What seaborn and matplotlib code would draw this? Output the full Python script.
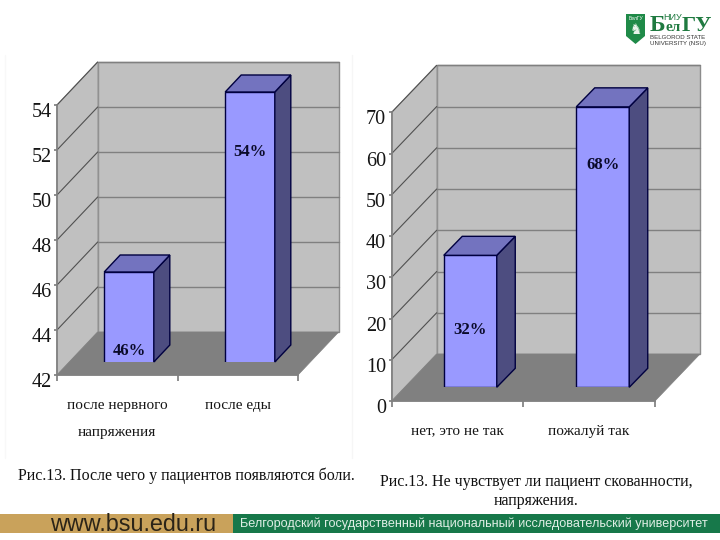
import matplotlib
matplotlib.use("Agg")
import matplotlib.pyplot as plt
from matplotlib.patches import Polygon, Rectangle
from matplotlib.transforms import ScaledTranslation
import seaborn as sns

# данные левого графика
left_cats = ["после нервного\nнапряжения", "после еды"]
left_vals = [46, 54]
left_ticks = [42, 44, 46, 48, 50, 52, 54]

# данные правого графика
right_cats = ["нет, это не так", "пожалуй так"]
right_vals = [32, 68]
right_ticks = [0, 10, 20, 30, 40, 50, 60, 70]

caption_left = "Рис.13. После чего у пациентов появляются боли."
caption_right = "Рис.13. Не чувствует ли пациент скованности,\nнапряжения."
site_text = "www.bsu.edu.ru"
banner_text = "Белгородский государственный национальный исследовательский университет"

W, H = 720, 540
WALL = "#C0C0C0"
FLOOR = "#808080"
FRONT = "#9999FF"
SIDE = "#4D4D80"
TOP = "#7373BF"
EDGE = "#000040"
LOGO = "#1F7A40"
SERIF = ["Liberation Serif", "DejaVu Serif"]
SANS = ["Liberation Sans", "DejaVu Sans"]

sns.set_theme(style="white")
plt.rcParams["font.family"] = SERIF


def px_axes(fig, l, t, r, b, z):
    ax = fig.add_axes([l / W, 1 - b / H, (r - l) / W, (b - t) / H], zorder=z)
    ax.patch.set_alpha(0)
    return ax


def draw_frame(fig, box, depth, cats, ticks):
    # стены, пол и ось значений
    l, t, r, b = box
    ax = px_axes(fig, l, t, r, b, 1)
    lo, hi = ticks[0], ticks[-1]
    ax.set_xlim(0, 2)
    ax.set_ylim(lo, hi)
    dx = depth[0] * 2 / (r - l)
    dy = depth[1] * (hi - lo) / (b - t)
    ax.add_patch(Polygon([(dx, lo + dy), (2 + dx, lo + dy), (2 + dx, hi + dy), (dx, hi + dy)],
                         fc=WALL, ec="#8c8c8c", lw=1, clip_on=False))
    ax.add_patch(Polygon([(0, lo), (dx, lo + dy), (dx, hi + dy), (0, hi)],
                         fc=WALL, ec="#a0a0a0", lw=0.8, clip_on=False))
    ax.add_patch(Polygon([(0, lo), (2, lo), (2 + dx, lo + dy), (dx, lo + dy)],
                         fc=FLOOR, ec=FLOOR, lw=0.5, clip_on=False))
    for v in ticks[1:]:
        ax.plot([0, dx], [v, v + dy], color="#505050", lw=0.8, clip_on=False)
        ax.plot([dx, 2 + dx], [v + dy, v + dy], color="#808080", lw=1, clip_on=False)
    sns.despine(ax=ax, top=True, right=True)
    ax.spines["left"].set_color("#808080")
    ax.spines["bottom"].set_color("#808080")
    ax.set_yticks(ticks)
    ax.set_yticklabels([str(v) for v in ticks], fontsize=14.5, color="#151515")
    ax.set_xticks([0, 1, 2])
    ax.set_xticklabels([])
    ax.set_xticks([0.5, 1.5], cats, minor=True, fontsize=11, color="#151515", linespacing=2.4)
    ax.tick_params(axis="x", which="major", length=4, color="#808080", bottom=True)
    ax.tick_params(axis="x", which="minor", length=0, pad=17)
    ax.tick_params(axis="y", length=2, pad=2, color="#808080", left=True)
    # подписи значений в оригинале чуть ниже своих отметок
    shift = ScaledTranslation(0, -5 / 100, fig.dpi_scale_trans)
    for lab in ax.get_yticklabels():
        lab.set_transform(lab.get_transform() + shift)
    return ax


def draw_bars(fig, box, depth, cats, vals, lo, hi, width, drops):
    # передние грани из seaborn, боковые и верхние считаем от них
    l, t, r, b = box
    ax = px_axes(fig, l, t, r, b, 2)
    sns.barplot(x=cats, y=vals, ax=ax, width=width, color=FRONT, saturation=1,
                edgecolor=EDGE, linewidth=1)
    ax.set_xlim(-0.5, 1.5)
    ax.set_ylim(lo, hi)
    ax.axis("off")
    dx = depth[0] * 2 / (r - l)
    dy = depth[1] * (hi - lo) / (b - t)
    for bar, val, drop in zip(ax.patches, vals, drops):
        x0 = bar.get_x()
        x1 = x0 + bar.get_width()
        ax.add_patch(Polygon([(x1, lo), (x1 + dx, lo + dy), (x1 + dx, val + dy), (x1, val)],
                             fc=SIDE, ec=EDGE, lw=1, clip_on=False))
        ax.add_patch(Polygon([(x0, val), (x1, val), (x1 + dx, val + dy), (x0 + dx, val + dy)],
                             fc=TOP, ec=EDGE, lw=1, clip_on=False))
        ax.annotate(f"{val}%", ((x0 + x1) / 2, val), xytext=(0, -drop * 0.72), textcoords="offset points",
                    ha="center", va="center", fontsize=12, fontweight="bold", color="#0a0a2a",
                    annotation_clip=False)
    return ax


fig = plt.figure(figsize=(7.2, 5.4), dpi=100, facecolor="white")

# левый график
draw_frame(fig, (57, 105, 298, 375), (40.7, 43), left_cats, left_ticks)
draw_bars(fig, (68.5, 92, 310.5, 362), (16, 17), left_cats, left_vals, 42, 54, 0.41, [79, 60])

# правый график
draw_frame(fig, (391.7, 112.3, 655, 401), (45, 47), right_cats, right_ticks)
draw_bars(fig, (404, 98.6, 669, 387.3), (18.5, 19), right_cats, right_vals, 0, 70, 0.4, [75, 58])

# подписи, полоса и логотип в пиксельных координатах
over = fig.add_axes([0, 0, 1, 1], zorder=3)
over.patch.set_alpha(0)
over.set_xlim(0, W)
over.set_ylim(H, 0)
over.axis("off")

over.plot([5, 5], [55, 458], color="#f8f8f8", lw=1)
over.plot([352, 352], [55, 458], color="#f6f6f6", lw=1)
over.text(186.5, 476, caption_left, fontsize=11.5, ha="center", va="center", color="#111111")
over.text(536, 491.5, caption_right, fontsize=11.5, ha="center", va="center", color="#111111", linespacing=1.3)

over.add_patch(Rectangle((0, 514), 233, 19, fc="#C9A25B", ec="none"))
over.add_patch(Rectangle((233, 514), 487, 19, fc="#17784A", ec="none"))
over.text(133, 524.5, site_text, family=SANS, fontsize=16.8, ha="center", va="center", color="#2b2418")
over.text(474, 524, banner_text, family=SANS, fontsize=9.05, ha="center", va="center", color="#dfeee5")

# логотип БелГУ
over.add_patch(Polygon([(626, 14), (645, 14), (645, 36), (635.5, 44), (626, 36)], fc="#1F8A48", ec="none"))
over.text(635.5, 18, "БелГУ", family=SANS, fontsize=3.6, ha="center", va="center", color="white")
over.text(635.5, 30, "♞", family=["DejaVu Sans"], fontsize=10, ha="center", va="center", color="#e8f3ea")
over.text(650, 31, "Б", fontsize=17, fontweight="bold", ha="left", va="baseline", color=LOGO)
over.text(665, 31, "ел", fontsize=11, fontweight="bold", ha="left", va="baseline", color=LOGO)
over.text(682, 31, "ГУ", fontsize=16, fontweight="bold", ha="left", va="baseline", color=LOGO)
over.text(673, 17, "НИУ", family=SANS, fontsize=6.5, ha="center", va="center", color=LOGO)
over.text(678, 37.5, "BELGOROD STATE", family=SANS, fontsize=4.4, ha="center", va="center", color="#333333")
over.text(678, 44, "UNIVERSITY (NSU)", family=SANS, fontsize=4.4, ha="center", va="center", color="#333333")

fig.savefig("out.png", dpi=100, facecolor="white")
